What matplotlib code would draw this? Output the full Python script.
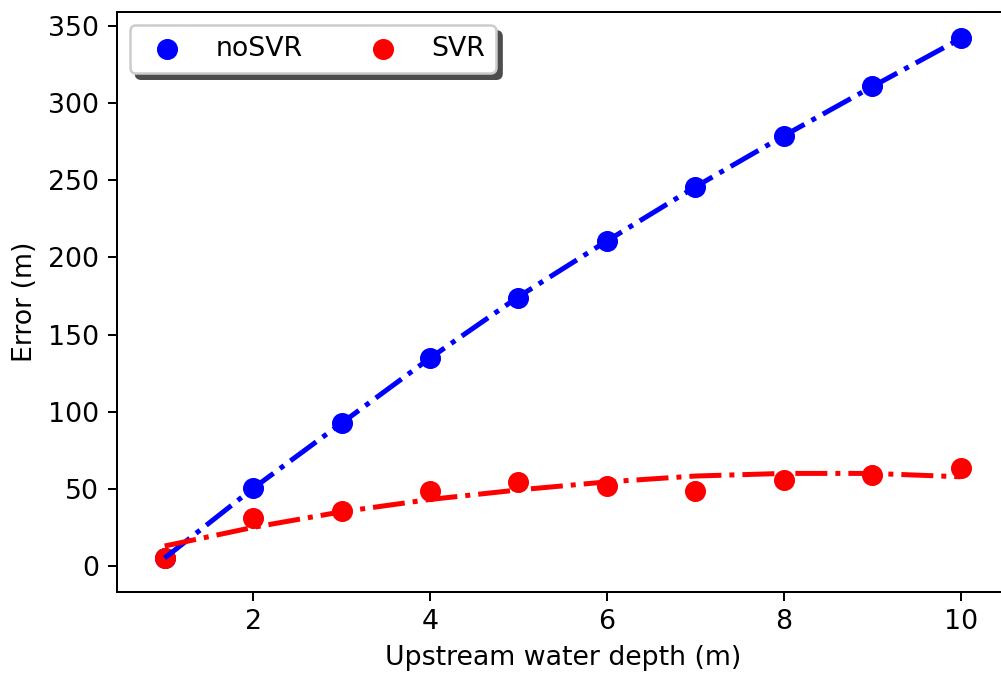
import numpy as np
import matplotlib
matplotlib.use('Agg')
import matplotlib.pyplot as plt

plt.rcParams['font.size'] = 10.7

# upstream water depth (m)
depth = [1, 2, 3, 4, 5, 6, 7, 8, 9, 10]

# errors (m)
err_nosvr = [5.2, 50.2, 92.5, 134.7, 174.0, 210.7, 245.8, 278.9, 311.1, 342.0]
err_svr = [5.2, 30.7, 35.7, 48.6, 54.3, 51.7, 48.4, 55.6, 58.8, 63.2]

# trend lines (dash-dot)
trend_nosvr = [5.0, 50.2, 92.5, 134.7, 174.5, 210.7, 245.8, 278.9, 310.8, 342.0]
trend_svr = [12.8, 24.9, 35.0, 43.0, 49.2, 54.4, 58.2, 59.9, 59.9, 57.7]

fig = plt.figure(figsize=(1001/180, 673/180), dpi=180)
ax = fig.add_axes([0.1164, 0.1204, 0.8915, 0.8618])

# points first, the lines are drawn over them
ax.scatter(depth, err_nosvr, s=55, color='b', label='noSVR')
ax.scatter(depth, err_svr, s=55, color='r', label='SVR')
ax.plot(depth, trend_nosvr, 'b-.', lw=2)
ax.plot(depth, trend_svr, 'r-.', lw=2)

ax.set_xlim(0.456, 10.544)
ax.set_ylim(-17, 359.2)
ax.set_xticks([2, 4, 6, 8, 10])
ax.set_yticks(np.arange(0, 351, 50))
ax.set_xlabel('Upstream water depth (m)')
ax.set_ylabel('Error (m)')
ax.legend(loc='upper left', ncol=2,
          shadow={'color': '#4d4d4d', 'alpha': 1, 'ox': 2.4, 'oy': -2.4})

fig.savefig('out.png', dpi=180)
